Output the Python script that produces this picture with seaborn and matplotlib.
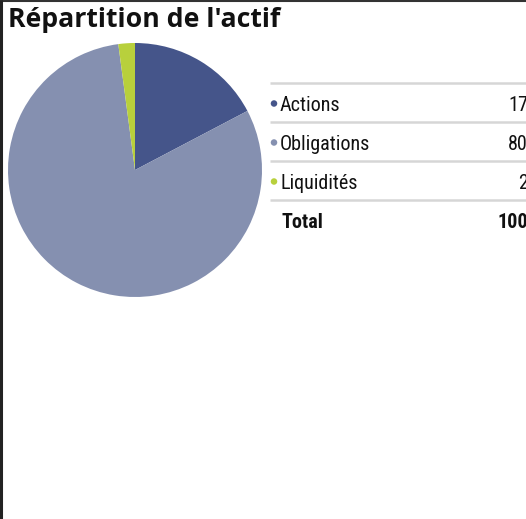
import matplotlib
matplotlib.use("Agg")
import matplotlib.pyplot as plt
import seaborn as sns

title = "Répartition de l'actif"
categories = ["Actions", "Obligations", "Liquidités"]
values = [17.3, 80.6, 2.1]
value_labels = ["17", "80", "2"]
total_label = "Total"
total_value = "100"
colors = ["#45558a", "#8590b0", "#b8d03c"]

sns.set_theme(style="white")
plt.rcParams["font.family"] = ["Roboto Condensed", "DejaVu Sans"]

W, H = 526, 519
fig = plt.figure(figsize=(W / 100, H / 100), dpi=100)

ov = fig.add_axes([0, 0, 1, 1])
ov.set_xlim(0, W)
ov.set_ylim(H, 0)
ov.axis("off")

cx, cy, r = 135, 170, 127
pax = fig.add_axes([(cx - r) / W, (H - cy - r) / H, 2 * r / W, 2 * r / H])
pax.pie(values, colors=colors, startangle=90, counterclock=False,
        radius=1, wedgeprops=dict(linewidth=0))
pax.set_xlim(-1, 1)
pax.set_ylim(-1, 1)
pax.set_aspect("equal")
pax.axis("off")

ov.text(8, 27, title, fontsize=19.2, fontweight="bold", family=["Open Sans", "DejaVu Sans"],
        va="baseline", ha="left", color="#111111")

ov.plot([0, W], [0.5, 0.5], color="#333333", lw=1.5, solid_capstyle="butt")
ov.plot([1, 1], [0, H], color="#222222", lw=2.2, solid_capstyle="butt")

line_ys = [83, 122, 161, 200]
for y in line_ys:
    ov.plot([270, W + 5], [y, y], color="#d6d6d6", lw=1.8, solid_capstyle="butt")

tk = dict(fontsize=14.5, color="#111111", va="baseline")
row_ys = [111, 150, 189]
for y, cat, val, col in zip(row_ys, categories, value_labels, colors):
    ov.scatter([274], [y - 7.5], s=22, color=col, edgecolors="none", zorder=3)
    ov.text(280, y, cat, ha="left", **tk)
    ov.text(528, y, val, ha="right", **tk)

ov.text(281, 228, total_label, fontweight="bold", ha="left", **tk)
ov.text(528, 228, total_value, fontweight="bold", ha="right", **tk)

fig.savefig("out.png", dpi=100)
